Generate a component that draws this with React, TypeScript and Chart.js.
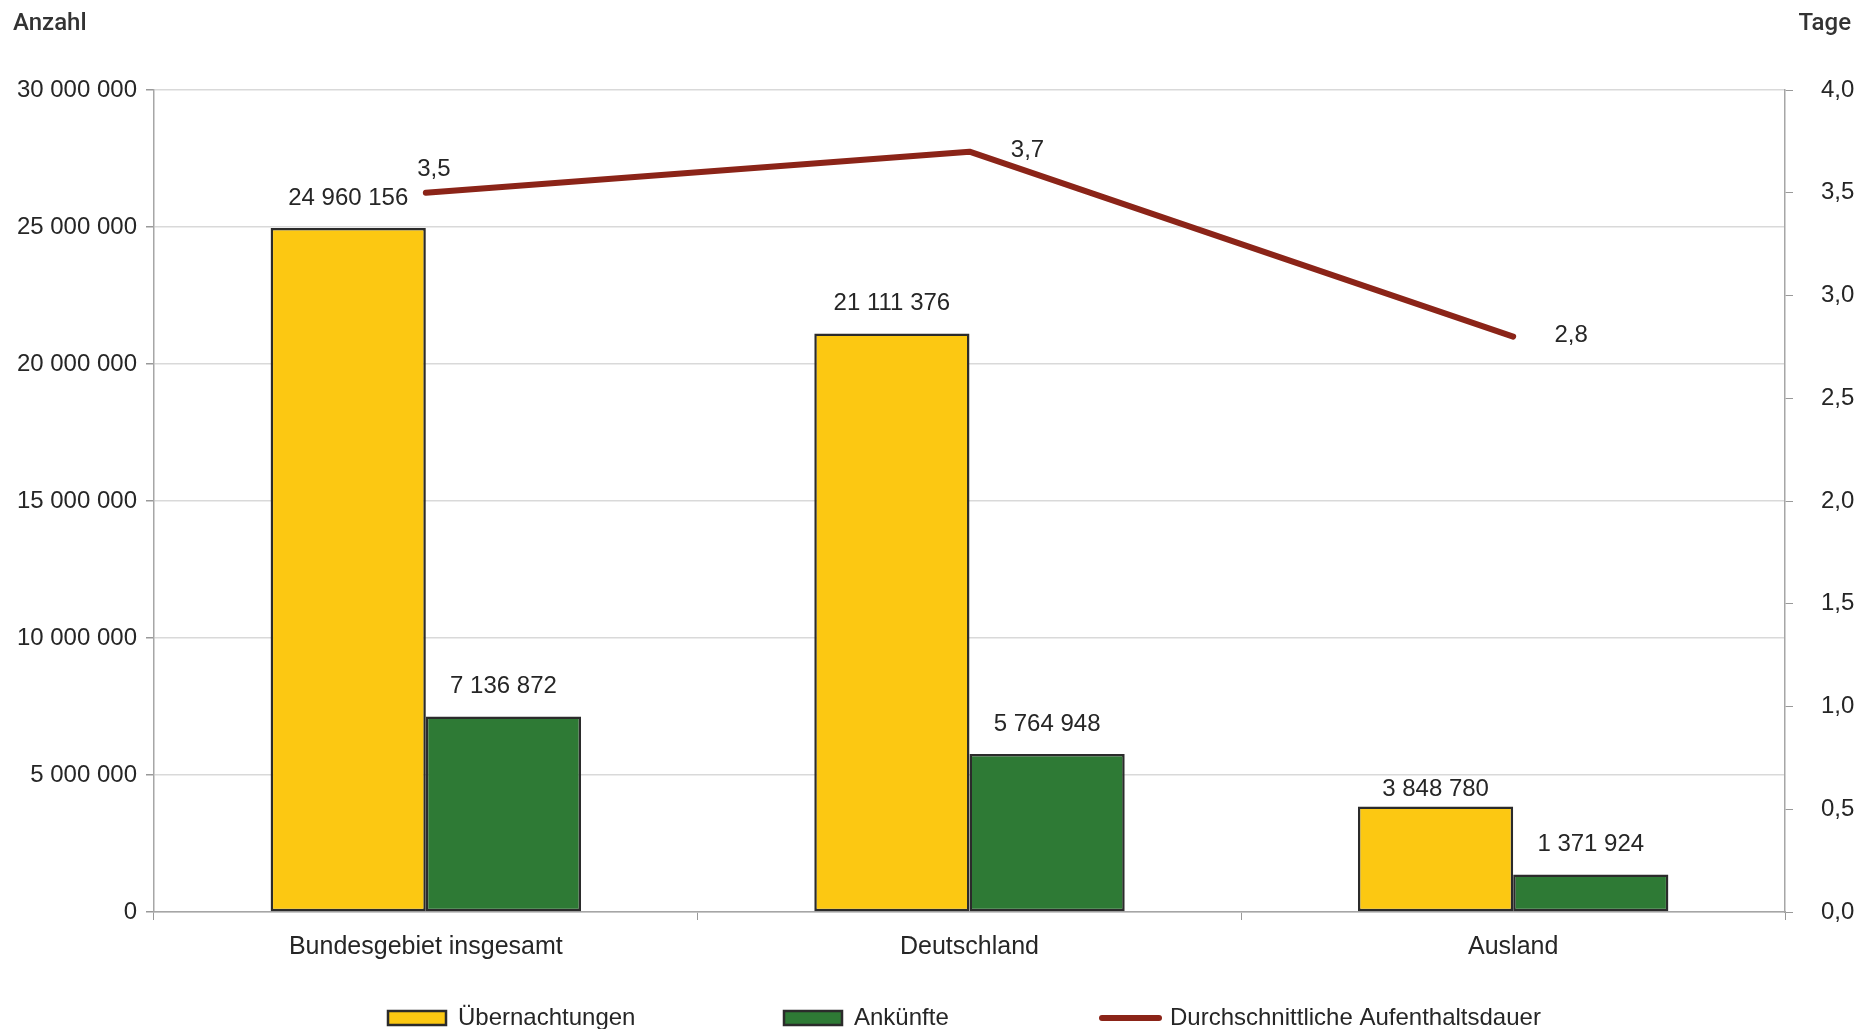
import React, { useEffect, useRef } from "react";
import { Chart, registerables } from "chart.js";

Chart.register(...registerables);

const categories = ["Bundesgebiet insgesamt", "Deutschland", "Ausland"];
const uebernachtungen = [24960156, 21111376, 3848780];
const ankuenfte = [7136872, 5764948, 1371924];
const aufenthaltsdauer = [3.5, 3.7, 2.8];
const seriesNames = ["Übernachtungen", "Ankünfte", "Durchschnittliche Aufenthaltsdauer"];
const leftAxis = { min: 0, max: 30000000, step: 5000000, title: "Anzahl" };
const rightAxis = { min: 0, max: 4, step: 0.5, title: "Tage" };

const YELLOW = "#fcc812";
const GREEN = "#2e7a35";
const RED = "#8b2418";
const BORDER = "#2b2b2b";
const TEXT = "#262626";
const FONT = '"Liberation Sans", Arial, sans-serif';
const TITLE_FONT = 'Roboto, "DejaVu Sans", sans-serif';

const fmtInt = (v: number) => String(Math.round(v)).replace(/\B(?=(\d{3})+(?!\d))/g, " ");
const fmtDec = (v: number) => Number(v).toFixed(1).replace(".", ",");

const W = 1863;
const H = 1029;

const valueLabels = {
  id: "valueLabels",
  afterDatasetsDraw(chart: any) {
    const ctx = chart.ctx;
    ctx.save();
    ctx.font = `24px ${FONT}`;
    ctx.fillStyle = TEXT;
    ctx.textAlign = "center";
    ctx.textBaseline = "middle";
    const lineOffsets = [
      [8, -23],
      [58, -1],
      [58, -1],
    ];
    chart.data.datasets.forEach((ds: any, di: number) => {
      const meta = chart.getDatasetMeta(di);
      meta.data.forEach((el: any, i: number) => {
        const v = ds.data[i];
        if (ds.type === "line") {
          const o = lineOffsets[i];
          ctx.fillText(fmtDec(v), el.x + o[0], el.y + o[1]);
        } else {
          const gap = di === 0 && i === 2 ? 17 : 30;
          ctx.fillText(fmtInt(v), el.x, el.y - gap);
        }
      });
    });
    ctx.restore();
  },
};

const extras = {
  id: "extras",
  afterDraw(chart: any) {
    const ctx = chart.ctx;
    ctx.save();
    // axis titles
    ctx.font = `500 24px ${TITLE_FONT}`;
    ctx.fillStyle = "#333";
    ctx.textBaseline = "middle";
    ctx.textAlign = "left";
    ctx.fillText(leftAxis.title, 13, 24);
    ctx.textAlign = "right";
    ctx.fillText(rightAxis.title, 1851, 24);

    // legend
    const ly = 1018;
    const items = [
      { x: 388, kind: "box", color: YELLOW },
      { x: 784, kind: "box", color: GREEN },
      { x: 1099, kind: "line", color: RED },
    ];
    ctx.font = `24px ${FONT}`;
    ctx.fillStyle = TEXT;
    ctx.textAlign = "left";
    items.forEach((it, i) => {
      const label = chart.data.datasets[i].label;
      if (it.kind === "box") {
        ctx.fillStyle = it.color;
        ctx.fillRect(it.x, ly - 7, 58, 14);
        ctx.strokeStyle = BORDER;
        ctx.lineWidth = 2.5;
        ctx.strokeRect(it.x, ly - 7, 58, 14);
        ctx.fillStyle = TEXT;
        ctx.fillText(label, it.x + 70, ly);
      } else {
        ctx.strokeStyle = it.color;
        ctx.lineWidth = 6;
        ctx.lineCap = "round";
        ctx.beginPath();
        ctx.moveTo(it.x + 3, ly);
        ctx.lineTo(it.x + 60, ly);
        ctx.stroke();
        ctx.fillStyle = TEXT;
        ctx.fillText(label, it.x + 71, ly);
      }
    });
    ctx.restore();
  },
};

export default function App() {
  const ref = useRef<HTMLCanvasElement | null>(null);

  useEffect(() => {
    if (!ref.current) return;
    const chart = new Chart(ref.current, {
      type: "bar",
      data: {
        labels: categories,
        datasets: [
          {
            type: "bar",
            label: seriesNames[0],
            data: uebernachtungen,
            backgroundColor: YELLOW,
            borderColor: BORDER,
            borderWidth: 2.5,
            borderSkipped: false,
            yAxisID: "y",
            order: 1,
            categoryPercentage: 0.571,
            barPercentage: 1.0,
          },
          {
            type: "bar",
            label: seriesNames[1],
            data: ankuenfte,
            backgroundColor: GREEN,
            borderColor: BORDER,
            borderWidth: 2.5,
            borderSkipped: false,
            yAxisID: "y",
            order: 1,
            categoryPercentage: 0.571,
            barPercentage: 1.0,
          },
          {
            type: "line",
            label: seriesNames[2],
            data: aufenthaltsdauer,
            borderColor: RED,
            backgroundColor: RED,
            borderWidth: 6,
            pointRadius: 0,
            tension: 0,
            borderCapStyle: "round",
            borderJoinStyle: "round",
            yAxisID: "y1",
            order: 0,
          },
        ] as any,
      },
      options: {
        responsive: false,
        animation: false,
        devicePixelRatio: 1,
        layout: { padding: { top: 90, left: 0, right: 0, bottom: 0 } },
        plugins: {
          legend: { display: false },
          tooltip: { enabled: false },
        },
        scales: {
          x: {
            afterFit: (s: any) => {
              s.height = H - 912;
            },
            grid: {
              offset: true,
              drawOnChartArea: false,
              drawTicks: true,
              tickLength: 8,
              tickColor: "#999",
            },
            border: { color: "#a6a6a6", width: 1.5 },
            ticks: {
              color: TEXT,
              font: { family: FONT, size: 25 },
              padding: 12,
              maxRotation: 0,
            },
          },
          y: {
            position: "left",
            min: leftAxis.min,
            max: leftAxis.max,
            afterFit: (s: any) => {
              s.width = 154;
            },
            grid: {
              color: "#d9d9d9",
              lineWidth: 1.5,
              tickLength: 8,
              tickColor: "#999",
            },
            border: { color: "#a6a6a6", width: 1.5 },
            ticks: {
              stepSize: leftAxis.step,
              color: TEXT,
              font: { family: FONT, size: 24 },
              padding: 9,
              callback: (v: any) => fmtInt(Number(v)),
            },
          },
          y1: {
            position: "right",
            min: rightAxis.min,
            max: rightAxis.max,
            afterFit: (s: any) => {
              s.width = W - 1785;
            },
            grid: {
              drawOnChartArea: false,
              tickLength: 8,
              tickColor: "#999",
            },
            border: { color: "#a6a6a6", width: 1.5 },
            ticks: {
              stepSize: rightAxis.step,
              color: TEXT,
              font: { family: FONT, size: 24 },
              padding: 28,
              callback: (v: any) => fmtDec(Number(v)),
            },
          },
        },
      },
      plugins: [valueLabels, extras],
    });
    return () => chart.destroy();
  }, []);

  return (
    <div style={{ position: "fixed", left: 0, top: 0, width: W, height: H, background: "#fff" }}>
      <canvas ref={ref} width={W} height={H} style={{ width: W, height: H, display: "block" }} />
    </div>
  );
}
